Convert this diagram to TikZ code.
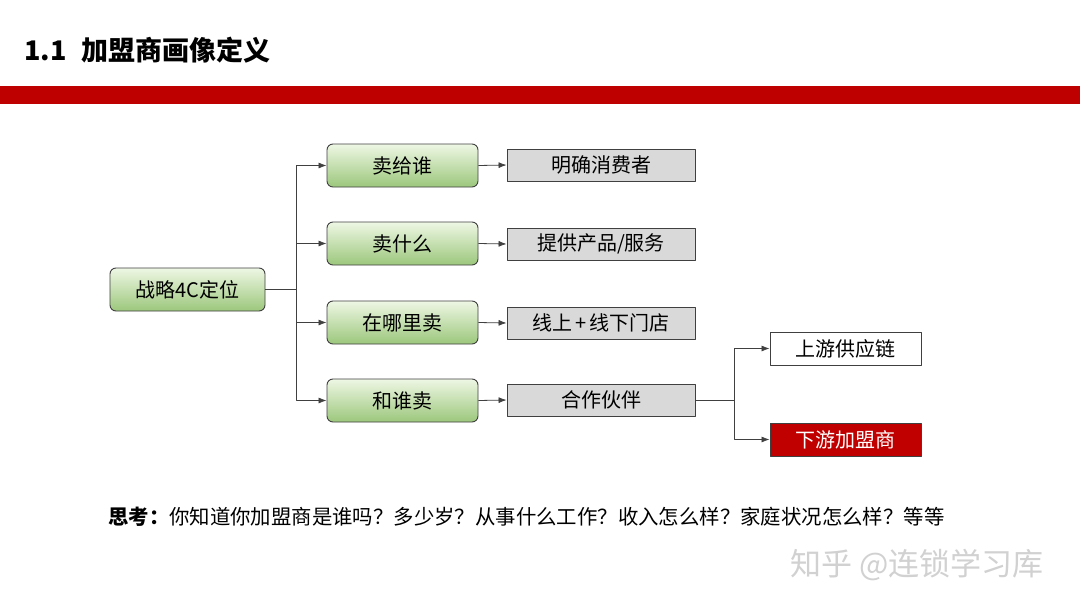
\documentclass[tikz,border=0pt]{standalone}
\usepackage{fontspec}
\setmainfont{Noto Sans CJK SC}
\usetikzlibrary{arrows.meta}

\definecolor{barred}{HTML}{BE0000}
\definecolor{boxred}{HTML}{C00000}
\definecolor{greentop}{HTML}{EEF7E4}
\definecolor{greenbot}{HTML}{9CC77C}
\definecolor{grayfill}{HTML}{D9D9D9}
\definecolor{linegray}{HTML}{404040}

\tikzset{
  greenbox/.style={draw=linegray, line width=0.9pt, rounded corners=6pt,
    top color=greentop, bottom color=greenbot, minimum width=151pt,
    minimum height=43pt, inner sep=0pt, font=\fontsize{20}{24}\selectfont},
  graybox/.style={draw=linegray, line width=0.9pt, fill=grayfill,
    minimum width=188pt, minimum height=32pt, inner sep=0pt,
    font=\fontsize{20}{24}\selectfont},
  endbox/.style={draw=linegray, line width=0.9pt, fill=white,
    minimum width=151pt, minimum height=33pt, inner sep=0pt,
    font=\fontsize{20}{24}\selectfont},
  link/.style={draw=linegray, line width=0.8pt,
    -{Latex[length=8pt,width=6pt]}},
}

\begin{document}
\begin{tikzpicture}[x=1pt, y=-1pt, line join=round]

  %% ==== page frame and title bar ====
  \path[use as bounding box, fill=white] (0,0) rectangle (1080,608);
  \node[anchor=west, inner sep=0pt, font=\fontsize{27}{32}\selectfont\bfseries]
    (title) at (24,50) {1.1\hspace{15pt}加盟商画像定义};
  \fill[barred] (0,86) rectangle (1080,104);

  %% ==== left column ====
  \node[greenbox, minimum width=155pt] (plan) at (187.5,289.5) {战略4C定位};

  \node[greenbox] (who)   at (402.5,165.5) {卖给谁};
  \node[greenbox] (what)  at (402.5,243.5) {卖什么};
  \node[greenbox] (where) at (402.5,322.5) {在哪里卖};
  \node[greenbox] (with)  at (402.5,400.5) {和谁卖};

  %% ==== answers ====
  \node[graybox] (buyer)   at (601,165) {明确消费者};
  \node[graybox] (offer)   at (601,244) {提供产品/服务};
  \node[graybox] (channel) at (601,323) {线上\,+\,线下门店};
  \node[graybox] (partner) at (601,400) {合作伙伴};

  \node[endbox] (supply) at (845.5,348.5) {上游供应链};
  \node[endbox, fill=boxred, text=white] (franchise) at (845.5,439.5) {下游加盟商};

  %% ==== connectors ====
  \coordinate (fork1) at (296,289.5);
  \draw[draw=linegray, line width=0.8pt] (plan.east) -- (fork1);
  \foreach \n in {who,what,where,with}
    \draw[link] (fork1) |- (\n.west);

  \draw[link] (who.east)   -- (buyer.west);
  \draw[link] (what.east)  -- (offer.west);
  \draw[link] (where.east) -- (channel.west);
  \draw[link] (with.east)  -- (partner.west);

  \coordinate (fork2) at (734,400);
  \draw[draw=linegray, line width=0.8pt] (partner.east) -- (fork2);
  \draw[link] (fork2) |- (supply.west);
  \draw[link] (fork2) |- (franchise.west);

  %% ==== question line ====
  \node[anchor=west, inner sep=0pt, font=\fontsize{20.4}{24}\selectfont]
    (think) at (108,517)
    {\textbf{思考：}你知道你加盟商是谁吗？多少岁？从事什么工作？收入怎么样？家庭状况怎么样？等等};

  %% ==== watermark ====
  \node[anchor=west, inner sep=0pt, text=black!18, font=\fontsize{31}{36}\selectfont]
    (mark) at (790,565) {知乎 @连锁学习库};
\end{tikzpicture}
\end{document}
